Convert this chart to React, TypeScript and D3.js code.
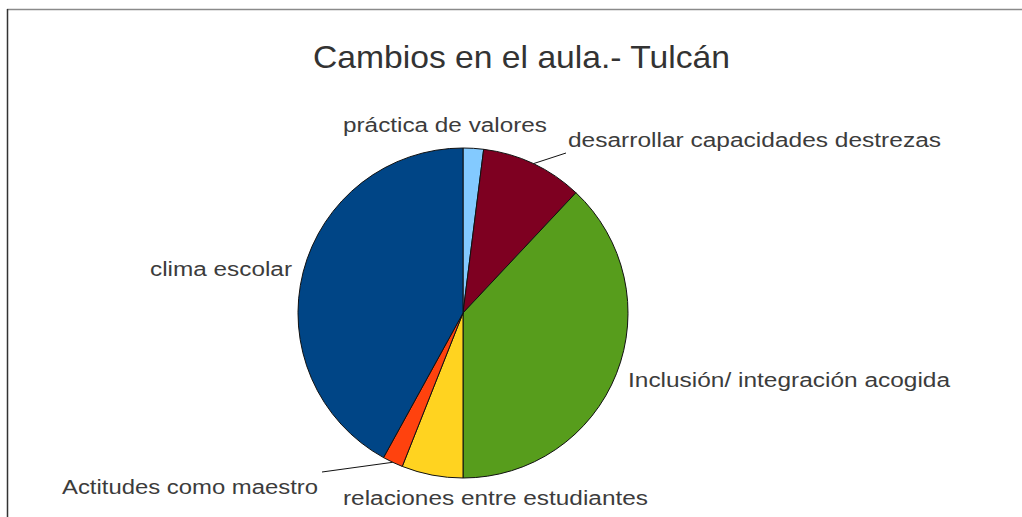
import React from "react";
import * as d3 from "d3";

const categories = [
  "práctica de valores",
  "desarrollar capacidades destrezas",
  "Inclusión/ integración acogida",
  "relaciones entre estudiantes",
  "Actitudes como maestro",
  "clima escolar",
];
const values = [2, 10, 38, 6, 2, 42];
const colors = ["#83CAFF", "#7E0021", "#579D1C", "#FFD320", "#FF420E", "#004586"];
const title = "Cambios en el aula.- Tulcán";

// label layout (text start, baseline, rendered width)
const labelPos = [
  { x: 343, y: 132, w: 204 },
  { x: 568, y: 147, w: 373 },
  { x: 628, y: 387, w: 322 },
  { x: 343, y: 505, w: 305 },
  { x: 62, y: 494, w: 256 },
  { x: 150, y: 276, w: 142 },
];
// leader lines: label-side end point for slices that have them
const leaders: Record<number, [number, number]> = {
  1: [566, 153],
  4: [322, 472],
};

export default function App() {
  const W = 1022, H = 517;
  const cx = 463, cy = 313, r = 165;
  const pie = d3.pie<number>().sort(null).value((d) => d)(values);
  const arc = d3.arc<d3.PieArcDatum<number>>().innerRadius(0).outerRadius(r);
  const font = "'Liberation Sans', Arial, sans-serif";
  return (
    <svg width={W} height={H} style={{ position: "absolute", left: 0, top: 0, background: "#fff" }}>
      <line x1={7} y1={9.5} x2={W} y2={9.5} stroke="#8a8a8a" strokeWidth={1.5} />
      <line x1={7.5} y1={9} x2={7.5} y2={H} stroke="#333" strokeWidth={1.5} />
      <text x={313} y={68} fontFamily={font} fontSize={32} fill="#333" textLength={417} lengthAdjust="spacingAndGlyphs">
        {title}
      </text>
      <g transform={`translate(${cx},${cy})`}>
        {pie.map((p, i) => (
          <path key={i} d={arc(p) || ""} fill={colors[i]} stroke="#111" strokeWidth={1} />
        ))}
        {pie.map((p, i) => {
          const L = leaders[i];
          if (!L) return null;
          const mid = (p.startAngle + p.endAngle) / 2;
          const x0 = Math.sin(mid) * r;
          const y0 = -Math.cos(mid) * r;
          return (
            <line key={"l" + i} x1={x0} y1={y0} x2={L[0] - cx} y2={L[1] - cy} stroke="#111" strokeWidth={1} />
          );
        })}
      </g>
      {categories.map((c, i) => (
        <text
          key={c}
          x={labelPos[i].x}
          y={labelPos[i].y}
          fontFamily={font}
          fontSize={20}
          fill="#3c3c3c"
          textLength={labelPos[i].w}
          lengthAdjust="spacingAndGlyphs"
        >
          {c}
        </text>
      ))}
    </svg>
  );
}
